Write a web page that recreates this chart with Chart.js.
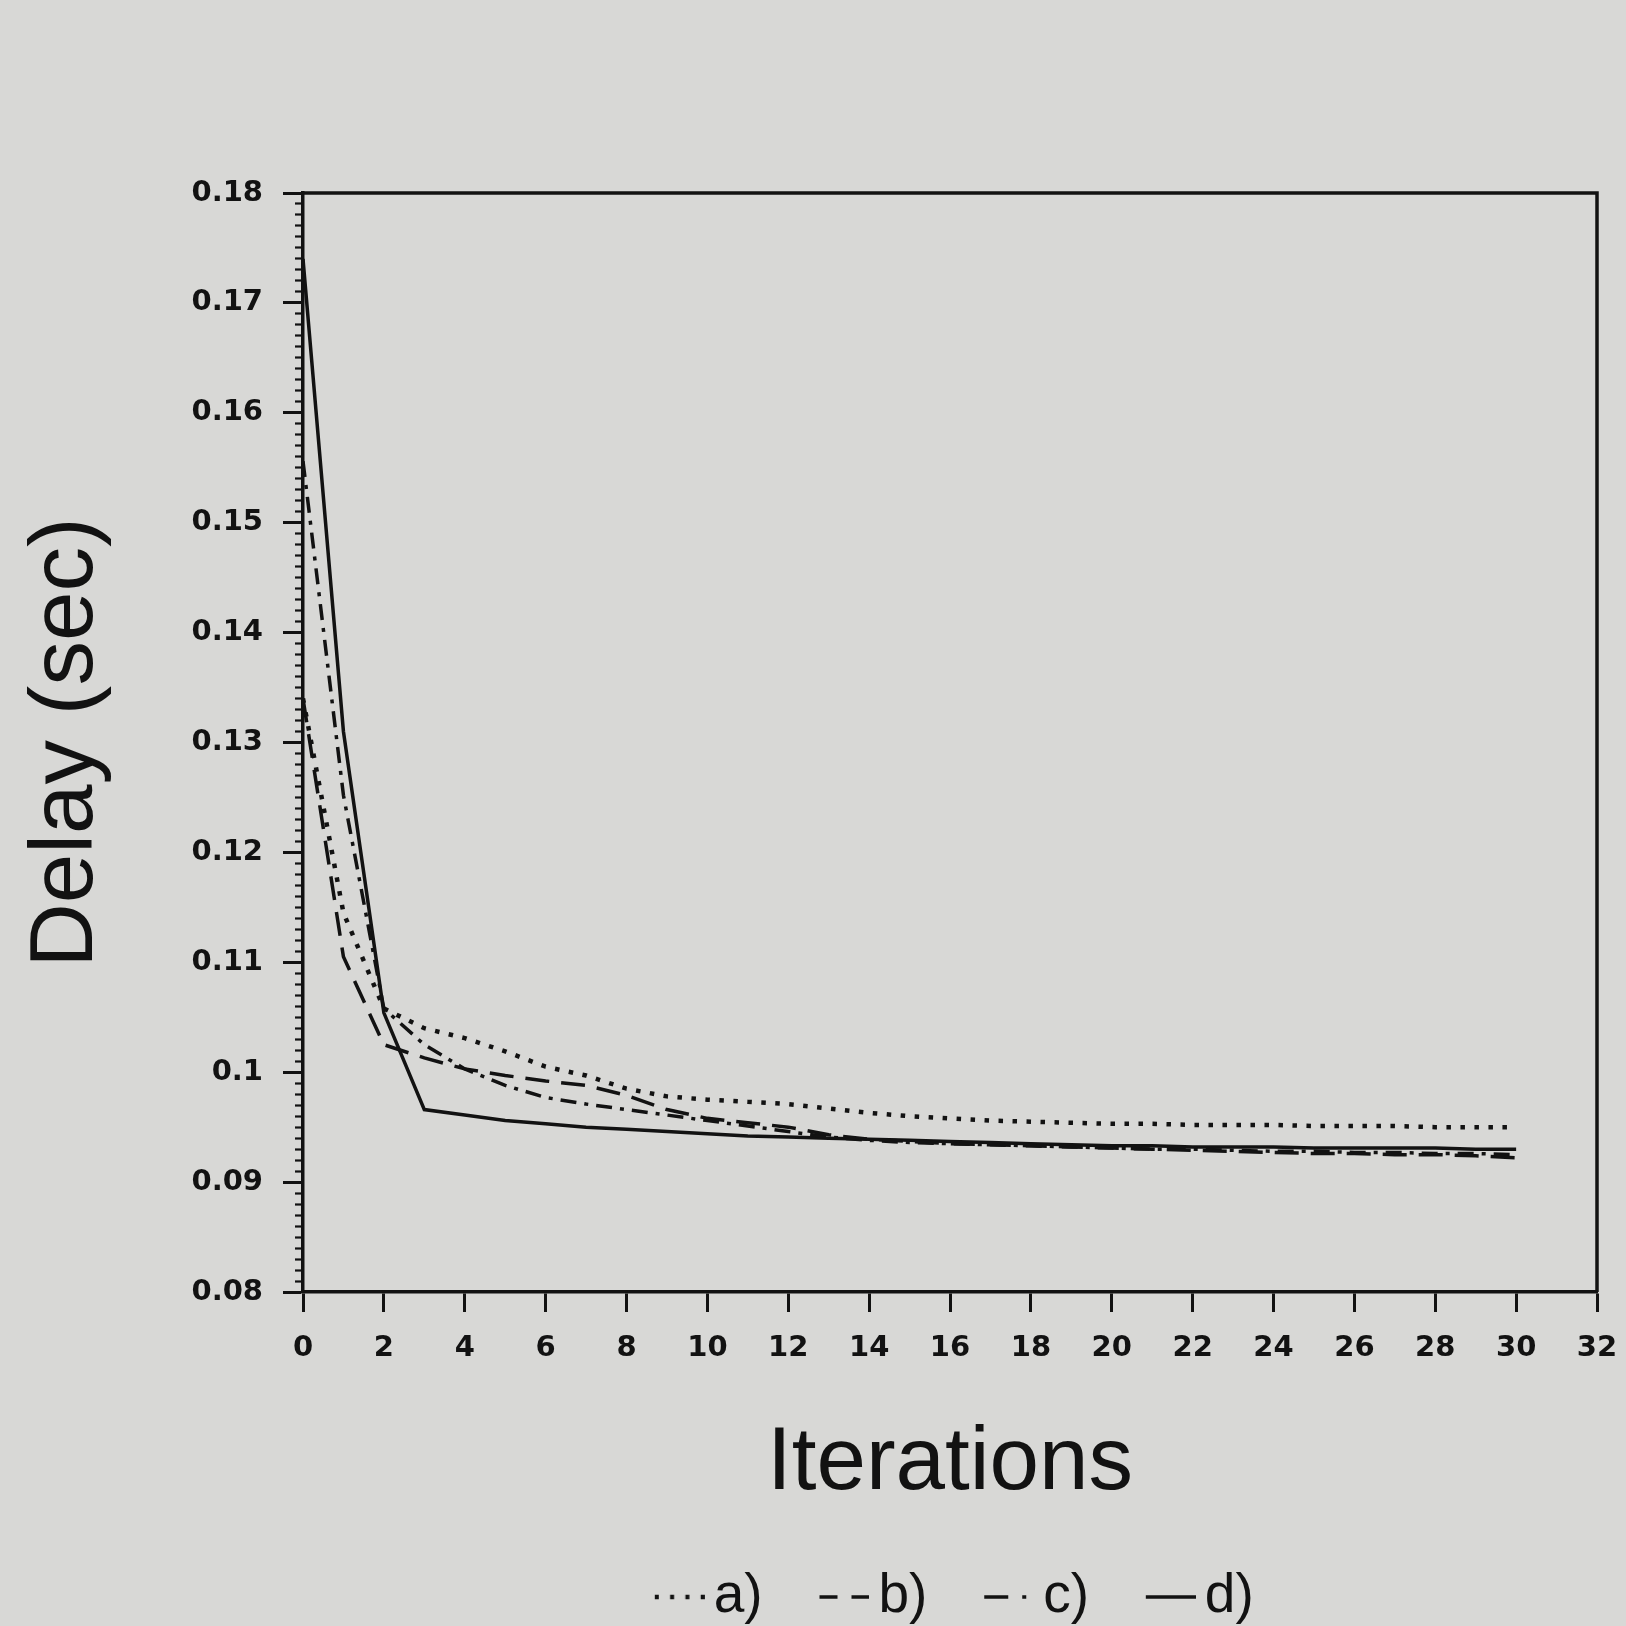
<!DOCTYPE html>
<html>
<head>
<meta charset="utf-8">
<script src="https://cdn.jsdelivr.net/npm/chart.js@4.4.1/dist/chart.umd.min.js"></script>
<style>
  html, body { margin: 0; padding: 0; background: #d8d8d6; }
  #wrap { width: 1626px; height: 1626px; position: relative; }
  canvas { display: block; }
</style>
</head>
<body>
<div id="wrap"><canvas id="chart" width="1626" height="1626"></canvas></div>
<script>
// ---- data ----
const iterations = [0,1,2,3,4,5,6,7,8,9,10,11,12,13,14,15,16,17,18,19,20,21,22,23,24,25,26,27,28,29,30];
const delayA = [0.1340,0.1145,0.1058,0.1040,0.1031,0.1019,0.1005,0.0997,0.0985,0.0978,0.0975,0.0973,0.0971,0.0967,0.0963,0.0960,0.0958,0.0956,0.0955,0.0954,0.0953,0.0953,0.0952,0.0952,0.0952,0.0951,0.0951,0.0951,0.0950,0.0950,0.0950];
const delayB = [0.1340,0.1105,0.1025,0.1013,0.1003,0.0997,0.0992,0.0988,0.0979,0.0966,0.0958,0.0954,0.0950,0.0943,0.0939,0.0937,0.0935,0.0934,0.0933,0.0932,0.0931,0.0930,0.0929,0.0928,0.0927,0.0926,0.0926,0.0925,0.0925,0.0924,0.0922];
const delayC = [0.1556,0.1252,0.1058,0.1025,0.1003,0.0988,0.0977,0.0971,0.0966,0.0961,0.0956,0.0951,0.0946,0.0941,0.0938,0.0936,0.0935,0.0934,0.0933,0.0932,0.0931,0.0930,0.0930,0.0929,0.0928,0.0928,0.0927,0.0927,0.0926,0.0926,0.0925];
const delayD = [0.1740,0.1310,0.1054,0.0966,0.0961,0.0956,0.0953,0.0950,0.0948,0.0946,0.0944,0.0942,0.0941,0.0940,0.0939,0.0938,0.0937,0.0936,0.0935,0.0934,0.0933,0.0933,0.0932,0.0932,0.0932,0.0931,0.0931,0.0931,0.0931,0.0930,0.0930];
const seriesLabels = ['a)', 'b)', 'c)', 'd)'];
const xAxisTitle = 'Iterations';
const yAxisTitle = 'Delay (sec)';
const yMin = 0.08, yMax = 0.18, yMajorStep = 0.01, yMinorStep = 0.001;
const xMin = 0, xMax = 32, xStep = 2;

// ---- styling ----
const ink = '#121212';
const toPoints = arr => iterations.map((x, i) => ({ x: x, y: arr[i] }));
const isMajor = v => Math.abs(Math.round(v / yMinorStep) % Math.round(yMajorStep / yMinorStep)) === 0;

// legend sample images (line style swatches)
function swatch(dash, width) {
  const c = document.createElement('canvas');
  c.width = 77; c.height = 10;
  const g = c.getContext('2d');
  g.strokeStyle = ink;
  g.lineWidth = width;
  g.lineCap = 'butt';
  g.setLineDash(dash);
  g.beginPath();
  g.moveTo(27, 5);
  g.lineTo(77, 5);
  g.stroke();
  return c;
}

const framePlugin = {
  id: 'frame',
  afterDatasetsDraw(chart) {
    const { ctx, chartArea: { left, top, right, bottom } } = chart;
    ctx.save();
    ctx.strokeStyle = ink;
    ctx.lineWidth = 3.5;
    ctx.beginPath();
    ctx.moveTo(left, top);
    ctx.lineTo(right, top);
    ctx.lineTo(right, bottom);
    ctx.stroke();
    ctx.restore();
  }
};

const common = { borderColor: ink, backgroundColor: ink, pointRadius: 0, tension: 0, fill: false, borderCapStyle: 'butt', borderJoinStyle: 'miter' };
const tickFont = { family: "'DejaVu Sans', sans-serif", weight: 'bold', size: 29 };
const titleFont = { family: "'Liberation Sans', Arial, sans-serif", size: 89, weight: 'normal' };

new Chart(document.getElementById('chart'), {
  type: 'line',
  data: {
    datasets: [
      Object.assign({}, common, { label: seriesLabels[0], data: toPoints(delayA), borderWidth: 4.5, borderDash: [4.5, 9.5], pointStyle: swatch([4, 11.3], 4.5) }),
      Object.assign({}, common, { label: seriesLabels[1], data: toPoints(delayB), borderWidth: 3.5, borderDash: [24, 12], pointStyle: swatch([18, 14], 3.5) }),
      Object.assign({}, common, { label: seriesLabels[2], data: toPoints(delayC), borderWidth: 3.5, borderDash: [16, 8, 4, 8], pointStyle: swatch([24, 14, 4, 20], 3.5) }),
      Object.assign({}, common, { label: seriesLabels[3], data: toPoints(delayD), borderWidth: 3.5, pointStyle: swatch([], 3.5) })
    ]
  },
  options: {
    responsive: false,
    animation: false,
    events: [],
    layout: { padding: { left: 0, right: 29, top: 193, bottom: -8.5 } },
    plugins: {
      legend: {
        position: 'bottom',
        fullSize: false,
        labels: {
          usePointStyle: true,
          pointStyleWidth: 40,
          padding: 48.3,
          color: ink,
          font: { family: "'Liberation Sans', Arial, sans-serif", size: 55 }
        }
      },
      tooltip: { enabled: false }
    },
    scales: {
      x: {
        type: 'linear',
        position: 'bottom',
        min: xMin, max: xMax,
        afterFit: s => { s.height = 229.2; s.paddingLeft = 0; s.paddingRight = 0; },
        ticks: { stepSize: xStep, padding: 19, maxRotation: 0, color: ink, font: tickFont },
        grid: { drawOnChartArea: false, drawTicks: true, tickLength: 20, tickWidth: 3, tickColor: ink },
        border: { display: true, color: ink, width: 3.5 },
        title: { display: true, text: xAxisTitle, color: ink, font: titleFont, padding: { top: 20, bottom: 3.8 } }
      },
      y: {
        type: 'linear',
        position: 'left',
        min: yMin, max: yMax,
        afterFit: s => { s.width = 303; },
        ticks: {
          stepSize: yMinorStep, autoSkip: false, maxTicksLimit: 500, padding: 20, color: ink, font: tickFont,
          callback: v => isMajor(v) ? String(Number(v.toFixed(2))) : ''
        },
        grid: {
          drawOnChartArea: false, drawTicks: true, tickLength: 20, tickColor: ink,
          tickWidth: c => isMajor(c.tick.value) ? 3 : 2.2,
          tickBorderDash: c => isMajor(c.tick.value) ? [] : [8, 12],
          tickBorderDashOffset: c => isMajor(c.tick.value) ? 0 : 8
        },
        border: { display: true, color: ink, width: 3.5 },
        title: { display: true, text: yAxisTitle, color: ink, font: titleFont, padding: { top: 13.6, bottom: 20 } }
      }
    }
  },
  plugins: [framePlugin]
});
</script>
</body>
</html>
